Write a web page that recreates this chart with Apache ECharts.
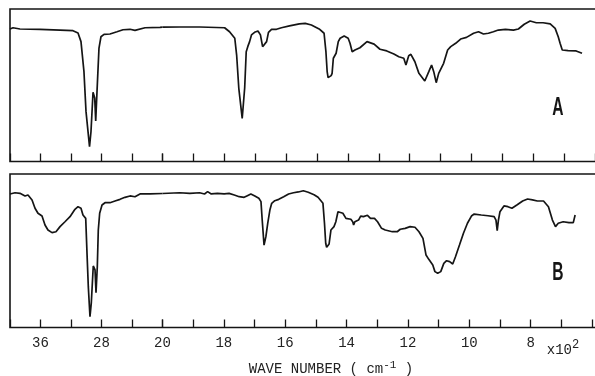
<!DOCTYPE html>
<html><head><meta charset="utf-8">
<script src="https://cdn.jsdelivr.net/npm/echarts@6/dist/echarts.min.js"></script>
<style>html,body{margin:0;padding:0;background:#fff}#c{width:595px;height:376px}</style>
</head><body><div id="c"></div>
<script>
// wave number (cm-1), transmittance (%)
const spectrumA = [[4000,86.9],[3961,87.7],[3869,86.9],[3607,86.7],[3344,86.2],[3174,85.8],[3108,84.3],[3069,78.6],[3030,58.9],[3003,32.7],[2957,9.7],[2938,19.5],[2911,45.4],[2889,41.6],[2876,26.6],[2859,45.8],[2833,74.4],[2807,81.8],[2767,83.4],[2689,83.6],[2597,85.1],[2518,86.4],[2426,86.7],[2361,86.0],[2229,87.7],[2033,88.0],[2000,88.1],
[1944,88.2],[1879,88.2],[1799,87.7],[1783,85.1],[1766,80.8],[1760,69.8],[1753,48.0],[1742,28.3],[1734,48.2],[1729,72.0],[1724,75.3],[1718,78.6],[1712,83.0],[1702,84.7],[1691,85.6],[1683,83.0],[1676,75.3],[1670,74.2],[1663,78.6],[1657,84.7],[1647,86.7],[1631,86.7],[1615,87.7],[1589,88.9],[1557,90.2],[1538,90.6],[1518,89.5],[1493,86.9],[1477,84.1],[1471,72.0],[1467,58.9],[1464,55.0],[1454,56.3],[1451,57.8],[1447,67.7],[1438,71.0],[1431,78.6],[1425,80.8],[1412,82.3],[1399,80.8],[1393,77.5],[1386,72.0],[1377,73.1],[1361,74.6],[1338,78.6],[1332,79.0],[1315,77.0],[1296,73.6],[1274,72.5],[1251,70.5],[1235,68.7],[1219,67.7],[1212,63.3],[1203,69.4],[1196,70.3],[1183,65.4],[1170,57.8],[1151,52.8],[1138,58.9],[1129,63.3],[1122,58.9],[1114,51.7],[1106,57.8],[1090,64.4],[1077,73.1],[1067,75.3],[1051,77.5],[1035,80.3],[1016,81.4],[993,84.1],[977,85.1],[961,83.6],[945,84.1],[929,85.1],[913,86.2],[890,86.7],[864,86.2],[848,86.9],[829,90.0],[810,92.1],[790,91.0],[768,91.0],[745,90.2],[729,87.3],[719,81.8],[713,77.5],[706,73.1],[687,72.7],[661,72.5],[642,71.0]];
const spectrumB = [[4000,87.0],[3934,87.8],[3869,87.4],[3803,85.7],[3764,86.3],[3711,83.1],[3672,77.7],[3633,74.4],[3580,72.6],[3541,66.8],[3502,63.5],[3449,61.8],[3397,62.4],[3344,65.7],[3279,68.9],[3213,72.2],[3148,77.0],[3108,78.7],[3069,77.7],[3043,73.3],[3007,71.1],[2990,48.3],[2973,26.6],[2951,7.0],[2934,15.8],[2908,40.1],[2885,37.5],[2872,22.7],[2855,39.6],[2842,63.5],[2824,74.4],[2793,79.8],[2754,81.3],[2689,81.3],[2623,82.4],[2557,83.5],[2492,84.8],[2426,85.7],[2361,85.2],[2295,87.0],[2164,87.0],[2000,87.3],
[1944,87.8],[1911,87.4],[1879,87.8],[1863,87.0],[1853,88.5],[1841,87.0],[1821,87.4],[1799,87.0],[1783,87.4],[1766,86.3],[1750,85.2],[1734,84.8],[1725,85.7],[1712,87.0],[1699,85.7],[1686,84.2],[1679,82.0],[1675,70.0],[1669,53.7],[1663,59.2],[1657,67.9],[1650,76.5],[1644,80.9],[1634,82.6],[1621,83.5],[1605,85.2],[1589,87.0],[1573,87.8],[1557,88.3],[1541,89.1],[1525,88.1],[1506,86.5],[1493,84.8],[1477,80.9],[1472,67.9],[1468,54.9],[1465,52.2],[1457,54.4],[1451,63.5],[1441,65.7],[1435,68.9],[1428,75.4],[1422,76.1],[1412,74.4],[1402,71.1],[1396,70.0],[1386,70.5],[1380,68.9],[1377,66.8],[1373,68.9],[1367,68.3],[1361,70.0],[1354,72.6],[1345,72.2],[1332,73.1],[1322,71.1],[1309,71.1],[1299,68.9],[1286,64.6],[1274,63.5],[1251,62.4],[1235,62.4],[1225,64.0],[1219,63.1],[1209,64.6],[1193,65.7],[1177,65.3],[1164,62.4],[1151,58.1],[1141,47.2],[1132,44.4],[1119,40.7],[1112,36.4],[1103,35.3],[1093,36.4],[1083,41.8],[1074,43.5],[1064,42.9],[1054,41.4],[1045,46.1],[1032,53.7],[1019,61.4],[1006,67.9],[993,72.6],[984,73.9],[961,73.3],[939,72.8],[919,72.2],[913,70.0],[909,63.1],[905,70.0],[900,75.4],[887,79.2],[874,78.7],[861,77.7],[845,79.8],[826,82.4],[810,83.7],[794,83.1],[778,82.4],[758,82.4],[742,78.7],[729,70.0],[719,65.7],[710,67.9],[694,68.9],[675,68.3],[661,68.3],[655,73.3]];
const tickLabels = [[3600,'36'],[2800,'28'],[2000,'20'],[1800,'18'],[1600,'16'],[1400,'14'],[1200,'12'],[1000,'10'],[800,'8']];
const panelLabels = ['A','B'];
const axisTitle = 'WAVE NUMBER ( cm{s|-1} )';
const scaleNote = 'x10{s|2}';

const BREAK = 2000;
const leftPart = s => s.filter(p => p[0] >= BREAK);
const rightPart = s => s.filter(p => p[0] <= BREAK);
const labelFor = v => { const f = tickLabels.find(t => t[0] === v); return f ? f[1] : ''; };

const ink = '#151515';
const panels = [{top: 9, h: 152.5}, {top: 174, h: 153.5}];
const LEFT = 10, MID = 162.5, RW = 434.6;

const grids = [], xAxes = [], yAxes = [], series = [];
panels.forEach((p, i) => {
  const showLab = i === 1;
  grids.push({left: LEFT, top: p.top, width: MID - LEFT, height: p.h});
  grids.push({left: MID, top: p.top, width: RW, height: p.h});
  const common = {
    type: 'value', inverse: true,
    axisLine: {show: false}, splitLine: {show: false},
    axisTick: {show: true, inside: true, length: 8, lineStyle: {color: ink, width: 1.3}}
  };
  const lab = f => ({show: showLab, margin: 9, color: '#222', fontFamily: 'Liberation Mono', fontSize: 14, formatter: f, showMinLabel: true, showMaxLabel: true, hideOverlap: false});
  xAxes.push(Object.assign({}, common, {gridIndex: 2*i, min: 2000, max: 4000, interval: 400,
    axisLabel: lab(v => v > BREAK ? labelFor(v) : '')}));
  xAxes.push(Object.assign({}, common, {gridIndex: 2*i+1, min: 600, max: 2000, interval: 100,
    axisLabel: lab(v => labelFor(v))}));
  yAxes.push({type: 'value', gridIndex: 2*i, min: 0, max: 100, show: false});
  yAxes.push({type: 'value', gridIndex: 2*i+1, min: 0, max: 100, show: false});
  const spec = i === 0 ? spectrumA : spectrumB;
  const ls = {color: ink, width: 1.7};
  series.push({type: 'line', xAxisIndex: 2*i, yAxisIndex: 2*i, data: leftPart(spec), showSymbol: false, symbol: 'none', lineStyle: ls, animation: false});
  series.push({type: 'line', xAxisIndex: 2*i+1, yAxisIndex: 2*i+1, data: rightPart(spec), showSymbol: false, symbol: 'none', lineStyle: ls, animation: false});
});

const graphics = [];
panels.forEach((p, i) => {
  graphics.push({type: 'rect', shape: {x: LEFT, y: p.top, width: 620, height: p.h}, style: {fill: 'none', stroke: ink, lineWidth: 1.6}, silent: true});
  graphics.push({type: 'text', x: 558, y: p.top + 99, scaleX: 0.6,
    style: {text: panelLabels[i], font: 'bold 26px "Liberation Sans"', fill: ink, textAlign: 'center', textVerticalAlign: 'middle'}});
});
graphics.push({type: 'text', x: 331, y: 369, style: {text: axisTitle, fill: '#222', font: '14px "Liberation Mono"', textAlign: 'center', textVerticalAlign: 'middle',
  rich: {s: {fontSize: 11, fontFamily: 'Liberation Mono', verticalAlign: 'top', padding: [0,0,8,0]}}}});
graphics.push({type: 'text', x: 563, y: 350, style: {text: scaleNote, fill: '#222', font: '14px "Liberation Mono"', textAlign: 'center', textVerticalAlign: 'middle',
  rich: {s: {fontSize: 12, fontFamily: 'Liberation Mono', padding: [0,0,10,0]}}}});

const chart = echarts.init(document.getElementById('c'), null, {renderer: 'canvas'});
chart.setOption({
  animation: false, backgroundColor: '#fff',
  grid: grids, xAxis: xAxes, yAxis: yAxes, series: series, graphic: graphics
});
</script></body></html>
